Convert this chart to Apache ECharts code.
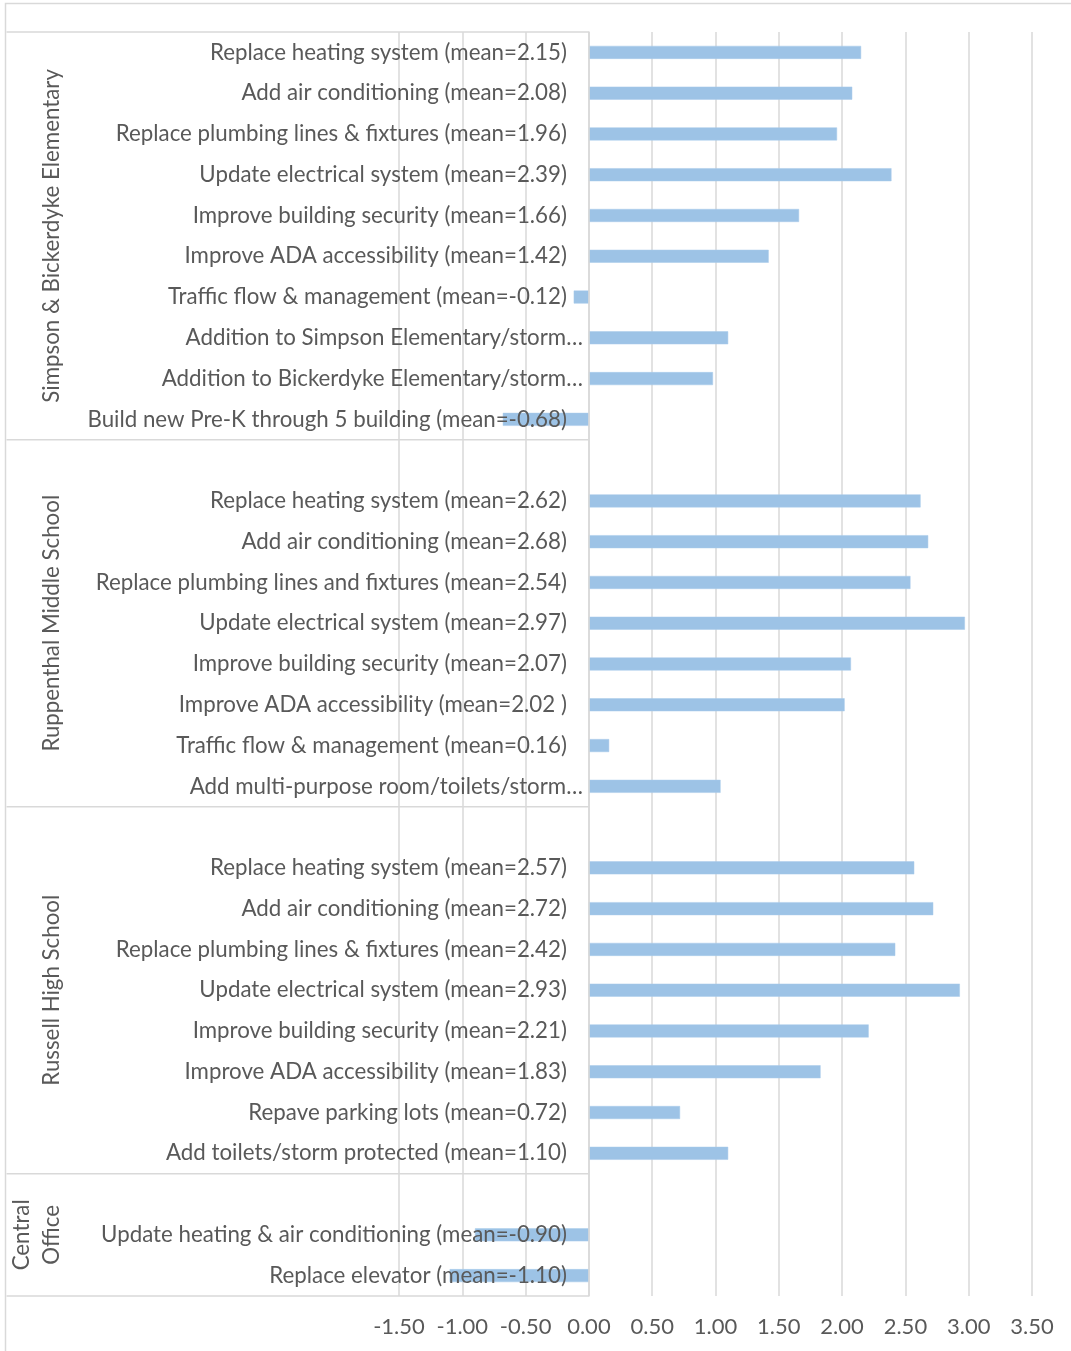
<!DOCTYPE html>
<html><head><meta charset="utf-8">
<script src="https://cdn.jsdelivr.net/npm/echarts@6/dist/echarts.min.js"></script>
<style>html,body{margin:0;padding:0;background:#fff}#c{width:1071px;height:1351px}</style>
</head><body><div id="c"></div>
<script>
const groupNames = ['Simpson & Bickerdyke Elementary', 'Ruppenthal Middle School', 'Russell High School', 'Central\nOffice'];

const simpsonItems = [
  'Replace heating system (mean=2.15)',
  'Add air conditioning (mean=2.08)',
  'Replace plumbing lines & fixtures (mean=1.96)',
  'Update electrical system (mean=2.39)',
  'Improve building security (mean=1.66)',
  'Improve ADA accessibility (mean=1.42)',
  'Traffic flow & management (mean=-0.12)',
  'Addition to Simpson Elementary/storm…',
  'Addition to Bickerdyke Elementary/storm…',
  'Build new Pre-K through 5 building (mean=-0.68)'
];
const simpsonValues = [2.15, 2.08, 1.96, 2.39, 1.66, 1.42, -0.12, 1.10, 0.98, -0.68];

const ruppenthalItems = [
  'Replace heating system (mean=2.62)',
  'Add air conditioning (mean=2.68)',
  'Replace plumbing lines and fixtures (mean=2.54)',
  'Update electrical system (mean=2.97)',
  'Improve building security (mean=2.07)',
  'Improve ADA accessibility (mean=2.02 )',
  'Traffic flow & management (mean=0.16)',
  'Add multi-purpose room/toilets/storm…'
];
const ruppenthalValues = [2.62, 2.68, 2.54, 2.97, 2.07, 2.02, 0.16, 1.04];

const russellItems = [
  'Replace heating system (mean=2.57)',
  'Add air conditioning (mean=2.72)',
  'Replace plumbing lines & fixtures (mean=2.42)',
  'Update electrical system (mean=2.93)',
  'Improve building security (mean=2.21)',
  'Improve ADA accessibility (mean=1.83)',
  'Repave parking lots (mean=0.72)',
  'Add toilets/storm protected (mean=1.10)'
];
const russellValues = [2.57, 2.72, 2.42, 2.93, 2.21, 1.83, 0.72, 1.10];

const centralItems = [
  'Update heating & air conditioning (mean=-0.90)',
  'Replace elevator (mean=-1.10)'
];
const centralValues = [-0.90, -1.10];

const xMin = -1.5, xMax = 3.5, xStep = 0.5;

// Build the category list: one blank slot precedes every group after the first
const groupItems = [simpsonItems, ruppenthalItems, russellItems, centralItems];
const groupValues = [simpsonValues, ruppenthalValues, russellValues, centralValues];
const categories = [];
const values = [];
const groupRanges = [];
groupItems.forEach((items, g) => {
  const start = categories.length;
  if (g > 0) { categories.push(' '.repeat(g)); values.push('-'); }
  items.forEach((name, i) => { categories.push(name); values.push(groupValues[g][i]); });
  groupRanges.push([start, categories.length - 1]);
});

const FONT = 'Lato, "Open Sans", sans-serif';
const TXT = '#595959';
const GRID = '#d9d9d9';
const CAT_FS = 22.3;

const chart = echarts.init(document.getElementById('c'), null, {renderer: 'canvas'});
chart.setOption({
  animation: false,
  backgroundColor: '#fff',
  grid: {left: 399, right: 39, top: 32, bottom: 55, outerBoundsMode: 'none'},
  xAxis: {
    type: 'value', min: xMin, max: xMax, interval: xStep,
    axisLine: {show: false}, axisTick: {show: false},
    splitLine: {show: true, lineStyle: {color: GRID, width: 1.5}},
    axisLabel: {
      color: TXT, fontFamily: FONT, fontSize: 22, margin: 20,
      showMinLabel: true, showMaxLabel: true,
      formatter: v => v.toFixed(2)
    }
  },
  yAxis: {
    type: 'category', inverse: true, data: categories, z: 5,
    axisLine: {show: true, onZero: true, lineStyle: {color: GRID, width: 1.5}},
    axisTick: {show: false},
    splitLine: {show: false},
    axisLabel: {
      interval: 0, margin: 6, color: TXT, fontFamily: FONT, fontSize: CAT_FS,
      formatter: v => v.endsWith('…') ? '{t|' + v + '}' : '{n|' + v + '}',
      rich: {
        n: {color: TXT, fontFamily: FONT, fontSize: CAT_FS, padding: [0, 16, 0, 0]},
        t: {color: TXT, fontFamily: FONT, fontSize: CAT_FS}
      }
    }
  },
  series: [{
    type: 'bar', data: values, barWidth: 13,
    itemStyle: {color: '#9dc3e6', borderColor: '#a9cbea', borderWidth: 0.5}
  }]
});

function drawDecor() {
  const c0 = chart.convertToPixel({yAxisIndex: 0}, categories[0]);
  const c1 = chart.convertToPixel({yAxisIndex: 0}, categories[1]);
  const band = c1 - c0;
  const zeroX = chart.convertToPixel({xAxisIndex: 0}, 0);
  const gridLeftX = chart.convertToPixel({xAxisIndex: 0}, xMin);
  const leftX = 6.5;
  const els = [];
  els.push({type: 'rect', silent: true, shape: {x: 5.5, y: 3.5, width: 1200, height: 1500},
            style: {fill: null, stroke: GRID, lineWidth: 1.5}});
  const bounds = [];
  groupRanges.forEach(([s, e], g) => {
    const yTop = chart.convertToPixel({yAxisIndex: 0}, categories[s]) - band / 2;
    const yBot = chart.convertToPixel({yAxisIndex: 0}, categories[e]) + band / 2;
    if (g === 0) bounds.push(yTop);
    bounds.push(yBot);
    const cx = g === 3 ? 37 : 52;
    els.push({type: 'text', silent: true, x: cx, y: (yTop + yBot) / 2, rotation: Math.PI / 2,
      style: {text: groupNames[g], fill: TXT, font: CAT_FS + 'px ' + FONT, align: 'center',
              verticalAlign: 'middle', lineHeight: 30}});
  });
  bounds.forEach(y => {
    els.push({type: 'line', silent: true, shape: {x1: leftX, y1: y, x2: zeroX, y2: y},
              style: {stroke: GRID, lineWidth: 1.5}});
  });
  chart.setOption({
    yAxis: {axisLabel: {margin: 6 - (zeroX - gridLeftX)}},
    graphic: {elements: els}
  });
}
drawDecor();
</script>
</body></html>
